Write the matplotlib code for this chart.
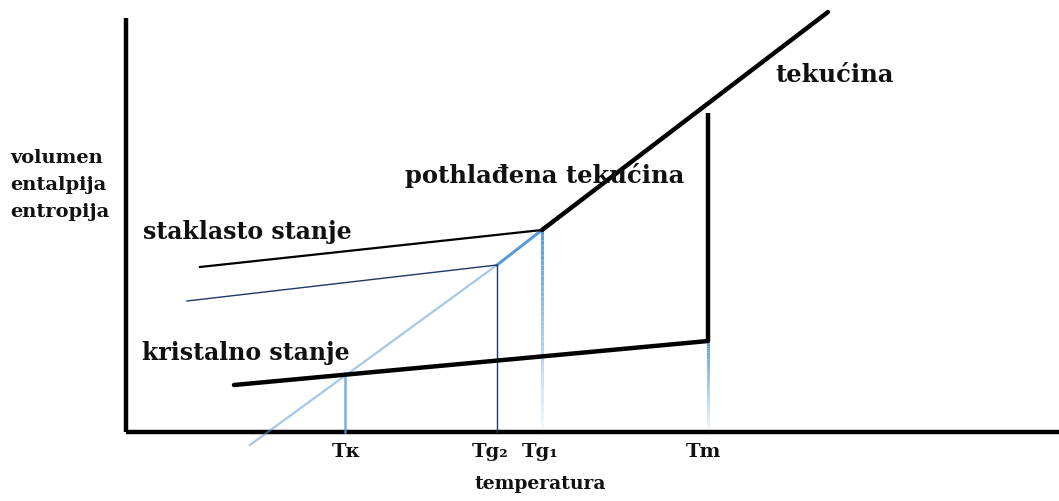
import matplotlib
matplotlib.use("Agg")
import matplotlib.pyplot as plt
import numpy as np
from matplotlib.collections import LineCollection

# schematic values (x = temperature, y = property level,
# y measured downward like the drawing so the axes are inverted below)
T_k, T_g2, T_g1, T_m = 345, 497, 542, 708
t_labels = ["Tκ", "Tg₂", "Tg₁", "Tm"]
t_label_x = [346, 490, 540, 703]

liquid_T = [542, 828]
liquid_v = [230, 12]
glass1_T = [200, 542]
glass1_v = [267, 230]
glass2_T = [187, 497]
glass2_v = [301, 265]
crystal_T = [234, 708]
crystal_v = [385, 341]
melt_v = [341, 113]
supercool_T = [542, 497, 250]
supercool_v = [230, 265, 445]
kink_v = [373, 265, 230, 341]   # where each drop line starts

axis_x0, axis_y0 = 126, 432
axis_top, axis_right = 18, 1059

FONT = "DejaVu Serif"
BLUE = "#5b9bd5"
NAVY = "#1f3864"


def fading_line(ax, x, y0, y1, color, lw, a0=1.0, a1=0.05, n=40):
    ys = np.linspace(y0, y1, n + 1)
    segs = [[(x, ys[i]), (x, ys[i + 1])] for i in range(n)]
    rgba = np.array([matplotlib.colors.to_rgba(color)] * n)
    rgba[:, 3] = np.linspace(a0, a1, n)
    ax.add_collection(LineCollection(segs, colors=rgba, linewidths=lw))


def main():
    fig = plt.figure(figsize=(10.59, 5.01), dpi=100)
    ax = fig.add_axes([0, 0, 1, 1])
    ax.set_xlim(0, 1059)
    ax.set_ylim(501, 0)
    ax.axis("off")

    # axes
    ax.plot([axis_x0, axis_x0], [axis_top, axis_y0], color="black", lw=3.2,
            solid_capstyle="butt")
    ax.plot([axis_x0, axis_right], [axis_y0, axis_y0], color="black", lw=3.2,
            solid_capstyle="butt")

    # supercooled liquid (blue), light part below Tg2
    ax.plot(supercool_T[:2], supercool_v[:2], color=BLUE, lw=2.2)
    ax.plot(supercool_T[1:], supercool_v[1:], color=BLUE, lw=1.6, alpha=0.55)

    # drop lines
    ax.plot([T_k, T_k], [kink_v[0], axis_y0], color=BLUE, lw=1.8, alpha=0.8)
    ax.plot([T_g2, T_g2], [kink_v[1], axis_y0], color=NAVY, lw=1.0)
    fading_line(ax, T_g1, kink_v[2], axis_y0, BLUE, 2.2)
    fading_line(ax, T_m, kink_v[3], axis_y0, BLUE, 2.2)

    # curves
    ax.plot(liquid_T, liquid_v, color="black", lw=3.2, solid_capstyle="round")
    ax.plot(glass1_T, glass1_v, color="black", lw=1.6)
    ax.plot(glass2_T, glass2_v, color=NAVY, lw=1.0)
    ax.plot(crystal_T, crystal_v, color="black", lw=3.2, solid_capstyle="round")
    ax.plot([T_m, T_m], melt_v, color="black", lw=3.2, solid_capstyle="butt")

    kw = dict(family=FONT, weight="bold", color="#111111")
    ax.text(10, 158, "volumen", fontsize=14, va="center", **kw)
    ax.text(10, 185, "entalpija", fontsize=14, va="center", **kw)
    ax.text(10, 212, "entropija", fontsize=14, va="center", **kw)
    ax.text(143, 232, "staklasto stanje", fontsize=17, va="center", **kw)
    ax.text(142, 353, "kristalno stanje", fontsize=17, va="center", **kw)
    ax.text(405, 176, "pothlađena tekućina", fontsize=17.5, va="center", **kw)
    ax.text(775, 75, "tekućina", fontsize=17.5, va="center", **kw)
    for lab, x in zip(t_labels, t_label_x):
        ax.text(x, 452, lab, fontsize=14, ha="center", va="center", **kw)
    ax.text(540, 484, "temperatura", fontsize=13.5, ha="center", va="center", **kw)

    fig.savefig("out.png", dpi=100)


if __name__ == "__main__":
    main()
